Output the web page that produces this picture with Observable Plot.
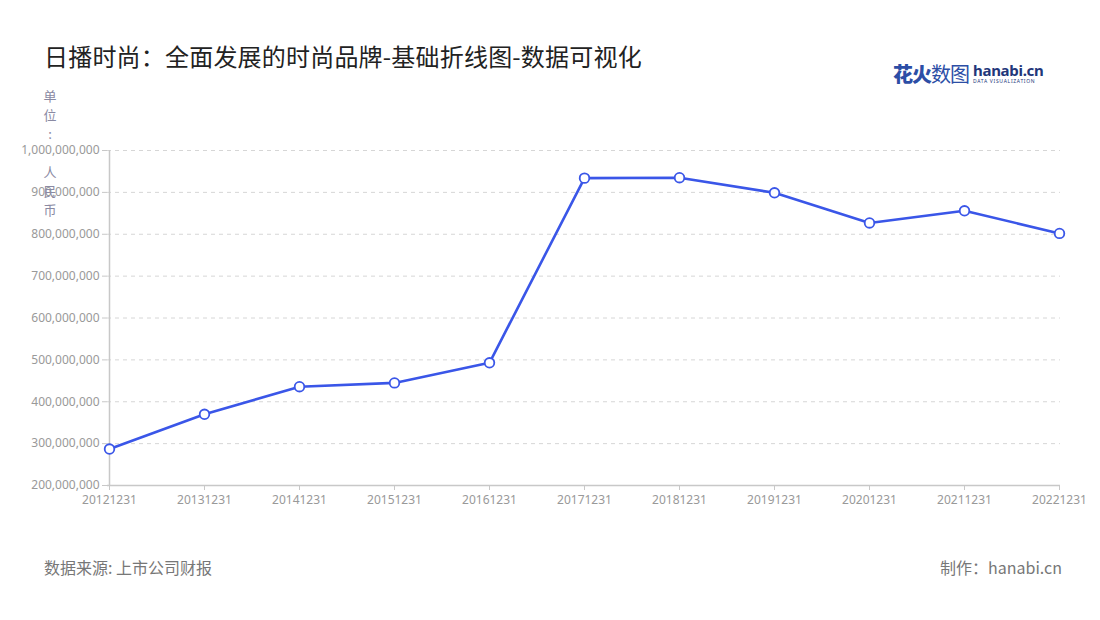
<!DOCTYPE html>
<html>
<head>
<meta charset="utf-8">
<script src="https://cdn.jsdelivr.net/npm/d3@7"></script>
<script src="https://cdn.jsdelivr.net/npm/@observablehq/plot@0.6"></script>
<style>
  html, body { margin: 0; padding: 0; background: #fff; }
  body { font-family: "Noto Sans", "Noto Sans CJK SC", sans-serif; }
  #wrap { position: relative; width: 1100px; height: 620px; overflow: hidden; }
  #title { position: absolute; left: 44px; top: 38px; font-size: 24px; color: #222; font-family: "Noto Sans CJK SC", sans-serif; letter-spacing: 0.2px; }
  #logo { position: absolute; left: 893px; top: 59px; display: flex; align-items: center; gap: 4px; }
  #logo .cn { font-family: "Noto Sans CJK SC", sans-serif; font-size: 20px; color: #2c4ea6; letter-spacing: -1px; }
  #logo .cn b { font-weight: 900; }
  #logo .en { display: flex; flex-direction: column; line-height: 1; }
  #logo .en .a { font-family: "Noto Sans", sans-serif; font-weight: 700; font-size: 15px; line-height: 14px; color: #22367a; letter-spacing: -0.3px; }
  #logo .en .b { font-size: 5px; line-height: 5px; color: #22367a; letter-spacing: 0.7px; margin-top: 2px; }
  #unit { position: absolute; left: 43px; top: 86px; width: 14px; font-size: 13px; line-height: 19px; color: #8a8aa3; text-align: center; font-family: "Noto Sans CJK SC", sans-serif; }
  #chart { position: absolute; left: 0; top: 90px; }
  #src { position: absolute; left: 44px; top: 555px; font-size: 16px; color: #777; font-family: "Noto Sans CJK SC", sans-serif; }
  #made { position: absolute; right: 38px; top: 555px; font-size: 16px; color: #777; font-family: "Noto Sans CJK SC", sans-serif; }
</style>
</head>
<body>
<div id="wrap">
  <div id="title">日播时尚：全面发展的时尚品牌-基础折线图-数据可视化</div>
  <div id="logo"><span class="cn"><b>花火</b>数图</span><span class="en"><span class="a">hanabi.cn</span><span class="b">DATA VISUALIZATION</span></span></div>
  <div id="chart"></div>
  <div id="unit">单<br>位<br>:<br>&nbsp;<br>人<br>民<br>币</div>
  <div id="src">数据来源: 上市公司财报</div>
  <div id="made">制作：hanabi.cn</div>
</div>
<script>
const dates = ["20121231","20131231","20141231","20151231","20161231","20171231","20181231","20191231","20201231","20211231","20221231"];
const revenue = [287000000, 370000000, 436000000, 445000000, 493000000, 934000000, 935000000, 899000000, 827000000, 856000000, 802000000];
const yTicks = [200000000, 300000000, 400000000, 500000000, 600000000, 700000000, 800000000, 900000000, 1000000000];

const data = dates.map((d, i) => ({date: d, value: revenue[i]}));
const fmt = d3.format(",");
const blue = "#3a56e8";

const chart = Plot.plot({
  width: 1100,
  height: 440,
  marginTop: 60,
  marginBottom: 45,
  marginLeft: 107,
  marginRight: 40,
  style: { fontFamily: "'Noto Sans', sans-serif", fontSize: "12px", color: "#999", background: "transparent" },
  x: { type: "point", domain: dates, padding: 0, label: null },
  y: { domain: [200000000, 1000000000], label: null },
  marks: [
    Plot.gridY(yTicks, { stroke: "#d6d6d6", strokeOpacity: 1, strokeDasharray: "4,4" }),
    Plot.axisY(yTicks, { tickFormat: fmt, tickSize: 5, tickPadding: 3, stroke: "#c8c8c8", fill: "#999", label: null }),
    Plot.axisX({ tickSize: 5, tickPadding: 5, stroke: "#c8c8c8", fill: "#999", label: null }),
    Plot.ruleX([dates[0]], { y1: 200000000, y2: 1000000000, stroke: "#c8c8c8", strokeWidth: 1.5 }),
    Plot.ruleY([200000000], { stroke: "#c8c8c8", strokeWidth: 1.5 }),
    Plot.line(data, { x: "date", y: "value", stroke: blue, strokeWidth: 2.6 }),
    Plot.dot(data, { x: "date", y: "value", r: 4.8, fill: "#fff", stroke: blue, strokeWidth: 1.8 })
  ]
});
document.getElementById("chart").appendChild(chart);
</script>
</body>
</html>
